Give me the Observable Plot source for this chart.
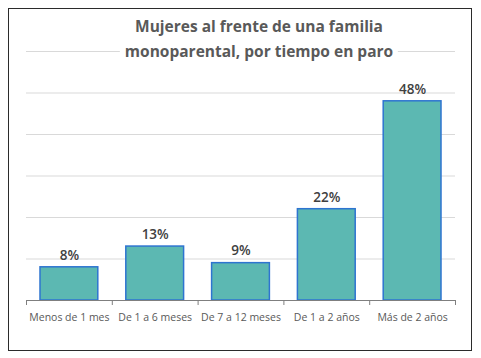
<!DOCTYPE html>
<html>
<head>
<meta charset="utf-8">
<script src="https://cdn.jsdelivr.net/npm/d3@7"></script>
<script src="https://cdn.jsdelivr.net/npm/@observablehq/plot@0.6"></script>
<style>
  html, body { margin: 0; padding: 0; background: #fff; }
  #wrap { position: relative; width: 481px; height: 358px; overflow: hidden; background: #fff; }
  #wrap svg { position: absolute; left: 0; top: 0; }
  #frame { position: absolute; left: 8px; top: 8px; width: 462px; height: 341px; border: 1.5px solid #2b2b2b; pointer-events: none; }
  #title { position: absolute; left: 259px; top: 14px; transform: translateX(-50%); text-align: center;
    font-family: "Open Sans", sans-serif; font-weight: 700; font-size: 15.5px; line-height: 25px; color: #595959; white-space: nowrap; }
  #title span { background: #fff; padding: 0 5px; }
</style>
</head>
<body>
<div id="wrap">
  <div id="chart"></div>
  <div id="title"><span>Mujeres al frente de una familia</span><br><span>monoparental, por tiempo en paro</span></div>
  <div id="frame"></div>
</div>
<script>
const categories = ["Menos de 1 mes", "De 1 a 6 meses", "De 7 a 12 meses", "De 1 a 2 años", "Más de 2 años"];
const values = [8, 13, 9, 22, 48];
const valueLabels = ["8%", "13%", "9%", "22%", "48%"];
const gridTicks = [10, 20, 30, 40, 50, 60];

const data = categories.map((c, i) => ({cat: c, idx: i, v: values[i], label: valueLabels[i]}));

const chart = Plot.plot({
  width: 481,
  height: 358,
  marginLeft: 26,
  marginRight: 26,
  marginTop: 51,
  marginBottom: 58,
  x: {domain: [0, categories.length]},
  y: {domain: [0, 60], axis: null},
  style: {fontFamily: "'Open Sans', sans-serif", background: "transparent", overflow: "visible"},
  marks: [
    Plot.gridY(gridTicks, {stroke: "#d9d9d9", strokeOpacity: 1, strokeWidth: 1}),
    Plot.rectY(data, {x1: d => d.idx, x2: d => d.idx + 1, y: "v", insetLeft: 14, insetRight: 14,
      fill: "#5cb8b2", stroke: "#2e74d0", strokeWidth: 1.5}),
    Plot.ruleY([0], {stroke: "#7f7f7f", strokeWidth: 1.2}),
    Plot.axisX(d3.range(categories.length + 1), {tickFormat: () => "", tickSize: 5, stroke: "#7f7f7f", label: null}),
    Plot.text(data, {x: d => d.idx + 0.5, y: "v", text: "label", dy: -12, fontSize: 13.5, fontWeight: 600, fill: "#404040"}),
    Plot.text(data, {x: d => d.idx + 0.5, y: 0, text: "cat", dy: 17, fontSize: 10.5, fill: "#595959"})
  ]
});
document.getElementById("chart").appendChild(chart);
</script>
</body>
</html>
